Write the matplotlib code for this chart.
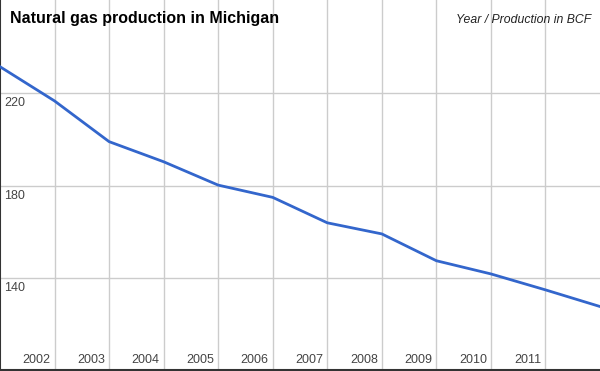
import matplotlib
matplotlib.use("Agg")
import matplotlib.pyplot as plt

years = [2001, 2002, 2003, 2004, 2005, 2006, 2007, 2008, 2009, 2010, 2011, 2012]
production = [231.5, 216.7, 199.1, 190.4, 180.3, 175.0, 164.0, 159.2, 147.6, 141.9, 135.0, 127.8]
x_tick_years = [2002, 2003, 2004, 2005, 2006, 2007, 2008, 2009, 2010, 2011]
y_ticks = [140, 180, 220]

plt.rcParams['font.family'] = ['Liberation Sans', 'DejaVu Sans']

fig = plt.figure(figsize=(6.0, 3.71), dpi=100)
ax = fig.add_axes([0, 1/371, 1, 370/371])
ax.set_xlim(2001, 2012)
ax.set_ylim(100.35, 260.35)

for yv in y_ticks:
    ax.axhline(yv, color='#cccccc', lw=1.0, zorder=1)
for xv in x_tick_years:
    ax.axvline(xv, color='#cccccc', lw=1.0, zorder=1)

ax.plot(years, production, color='#3366cc', lw=2.0, zorder=3, solid_joinstyle='round')

ax.set_xticks([])
ax.set_yticks([])
for s in ['top', 'right']:
    ax.spines[s].set_visible(False)
ax.spines['left'].set_color('#333333')
ax.spines['left'].set_linewidth(1.5)
ax.spines['bottom'].set_color('#333333')
ax.spines['bottom'].set_linewidth(1.5)

for xv in x_tick_years:
    ax.annotate(str(xv), xy=(xv, 0), xycoords=('data', 'axes fraction'),
                xytext=(-4, 4), textcoords='offset pixels',
                ha='right', va='bottom', fontsize=9, color='#444444')
for yv in y_ticks:
    ax.annotate(str(yv), xy=(0, yv), xycoords=('axes fraction', 'data'),
                xytext=(4, -4), textcoords='offset pixels',
                ha='left', va='top', fontsize=9, color='#444444')

fig.text(10/600, 1 - 18/371, 'Natural gas production in Michigan', fontsize=11.5,
         fontweight='bold', ha='left', va='center', color='black')
fig.text(591/600, 1 - 20/371, 'Year / Production in BCF', fontsize=8.8,
         fontstyle='italic', ha='right', va='center', color='#222222')

fig.savefig('out.png', dpi=100)
